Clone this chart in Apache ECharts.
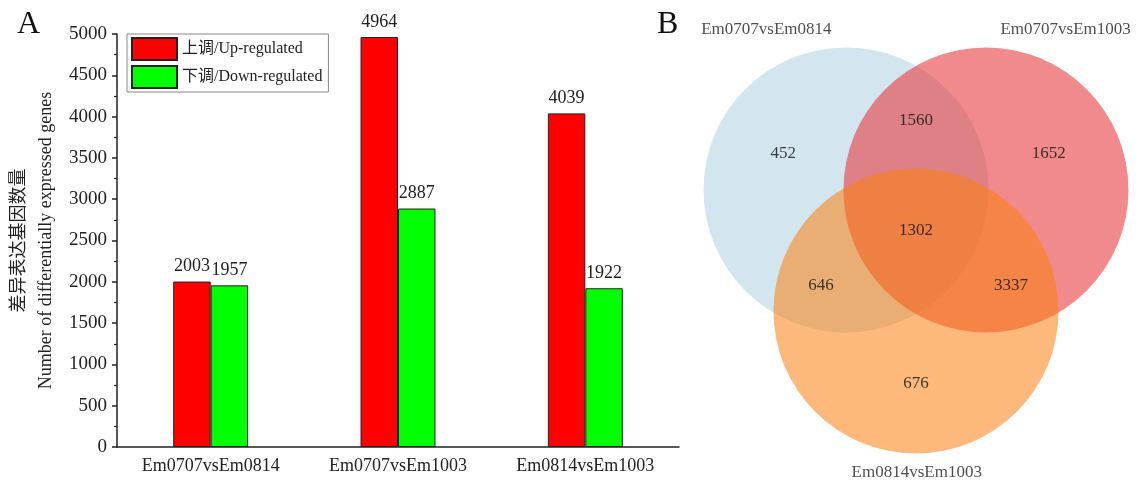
<!DOCTYPE html>
<html>
<head>
<meta charset="utf-8">
<script src="https://cdn.jsdelivr.net/npm/echarts@6/dist/echarts.min.js"></script>
<style>
html,body{margin:0;padding:0;background:#fff;}
#main{width:1140px;height:483px;}
</style>
</head>
<body>
<div id="main"></div>
<script>
// ---- data ----
const categories = ['Em0707vsEm0814', 'Em0707vsEm1003', 'Em0814vsEm1003'];
const upRegulated = [2003, 4964, 4039];
const downRegulated = [1957, 2887, 1922];
const seriesNames = ['上调/Up-regulated', '下调/Down-regulated'];
const yAxisName = ['差异表达基因数量', 'Number of differentially expressed genes'];
const vennSets = ['Em0707vsEm0814', 'Em0707vsEm1003', 'Em0814vsEm1003'];
const vennOnly = [452, 1652, 676];          // only set A, only B, only C
const vennPairs = [1560, 646, 3337];        // A∩B, A∩C, B∩C (not the third)
const vennAll = 1302;                        // A∩B∩C

// ---- layout / style ----
const FONT = '"Liberation Serif", "Times New Roman", "Noto Sans CJK SC", serif';
const R_PX = 142.5, CX_PX = 916, CY_PX = 230.3;
const VL = 640, VT = 0, VW = 500, VH = 483;
const setAngles = [150, 30, 270];
const D = 0.567;
const rad = a => a * Math.PI / 180;
const centers = setAngles.map(a => [D * Math.cos(rad(a)), D * Math.sin(rad(a))]);
const circleFill = ['rgba(211,230,240,1)', 'rgba(230,60,63,0.6)', 'rgba(251,128,15,0.55)'];
const pairOpposite = [270, 30, 150]; // direction of pair region = opposite of excluded set
const labelPts = [];
vennOnly.forEach((v, i) => {
  const a = rad(setAngles[i]);
  labelPts.push([1.075 * Math.cos(a), 1.075 * Math.sin(a), v]);
});
vennPairs.forEach((v, i) => {
  const a = rad(pairOpposite[i] + 180);
  labelPts.push([0.77 * Math.cos(a), 0.77 * Math.sin(a), v]);
});
labelPts.push([0, 0, vennAll]);
const nameAnchors = [[-1.05, 1.41], [1.05, 1.41], [0.005, -1.70]];
const nameData = vennSets.map((n, i) => ({ value: [nameAnchors[i][0], nameAnchors[i][1]], name: n }));

const vx = [(VL - CX_PX) / R_PX, (VL + VW - CX_PX) / R_PX];
const vy = [-(VT + VH - CY_PX) / R_PX, (CY_PX - VT) / R_PX];

const chart = echarts.init(document.getElementById('main'), null, { renderer: 'canvas' });
const axisBlack = { lineStyle: { color: '#222', width: 1.5 } };

chart.setOption({
  animation: false,
  backgroundColor: '#fff',
  textStyle: { fontFamily: FONT },
  title: [
    { text: 'A', left: 12, top: 4, textStyle: { fontFamily: FONT, fontSize: 32, fontWeight: 'normal', color: '#111' } },
    { text: 'B', left: 652, top: 4, textStyle: { fontFamily: FONT, fontSize: 32, fontWeight: 'normal', color: '#111' } }
  ],
  legend: {
    data: seriesNames,
    orient: 'vertical',
    left: 127, top: 34,
    itemWidth: 45, itemHeight: 22, itemGap: 4,
    padding: [3, 6, 3, 4],
    borderColor: '#888', borderWidth: 1,
    icon: 'rect',
    textStyle: { fontFamily: FONT, fontSize: 16, color: '#222' }
  },
  grid: [
    { left: 117, top: 34, width: 562, height: 413 },
    { left: VL, top: VT, width: VW, height: VH }
  ],
  xAxis: [
    {
      type: 'category', data: categories, gridIndex: 0, position: 'bottom', offset: 0,
      axisLine: axisBlack,
      axisTick: { alignWithLabel: true, length: 7, lineStyle: { color: '#222', width: 1.5 } },
      axisLabel: { fontFamily: FONT, fontSize: 18, color: '#222', margin: 10 }
    },
    {
      type: 'category', data: categories, gridIndex: 0, position: 'bottom', offset: 0,
      axisLine: { show: false },
      axisTick: { length: 4, lineStyle: { color: '#222', width: 1.5 } },
      axisLabel: { show: false }
    },
    { type: 'value', gridIndex: 1, min: vx[0], max: vx[1], show: false }
  ],
  yAxis: [
    {
      type: 'value', gridIndex: 0, min: 0, max: 5000, interval: 500,
      axisLine: { show: true, lineStyle: { color: '#222', width: 1.5 } },
      axisTick: { show: true, length: 5, lineStyle: { color: '#222', width: 1.5 } },
      minorTick: { show: true, splitNumber: 2, length: 3, lineStyle: { color: '#222', width: 1.2 } },
      splitLine: { show: false },
      axisLabel: { fontFamily: FONT, fontSize: 19, color: '#222', margin: 10, formatter: v => String(v) },
      name: yAxisName.join('\n'),
      nameLocation: 'middle', nameRotate: 90, nameGap: 57,
      nameTextStyle: { fontFamily: FONT, fontSize: 18, color: '#222', lineHeight: 27 }
    },
    { type: 'value', gridIndex: 1, min: vy[0], max: vy[1], show: false }
  ],
  series: [
    {
      name: seriesNames[0], type: 'bar', xAxisIndex: 0, yAxisIndex: 0,
      data: upRegulated, barGap: '0%', barCategoryGap: '60%',
      itemStyle: { color: '#ff0000', borderColor: '#222', borderWidth: 1 },
      label: { show: true, position: 'top', distance: 6, fontFamily: FONT, fontSize: 18, color: '#222' }
    },
    {
      name: seriesNames[1], type: 'bar', xAxisIndex: 0, yAxisIndex: 0,
      data: downRegulated, barGap: '0%', barCategoryGap: '60%',
      itemStyle: { color: '#00ff00', borderColor: '#222', borderWidth: 1 },
      label: { show: true, position: 'top', distance: 6, fontFamily: FONT, fontSize: 18, color: '#222' }
    },
    {
      type: 'custom', xAxisIndex: 2, yAxisIndex: 1, silent: true,
      data: centers.map((c, i) => [c[0], c[1], i]),
      renderItem: function (params, api) {
        const p = api.coord([api.value(0), api.value(1)]);
        const s = api.size([1, 1], [api.value(0), api.value(1)]);
        return {
          type: 'circle',
          shape: { cx: p[0], cy: p[1], r: s[0] },
          style: { fill: circleFill[api.value(2)], stroke: null }
        };
      },
      z: 1
    },
    {
      type: 'scatter', xAxisIndex: 2, yAxisIndex: 1, symbolSize: 0, silent: true,
      data: labelPts,
      label: { show: true, position: 'inside', formatter: p => p.value[2], fontFamily: FONT, fontSize: 17, color: '#111' },
      z: 5
    },
    {
      type: 'scatter', xAxisIndex: 2, yAxisIndex: 1, symbolSize: 0, silent: true,
      data: nameData,
      label: { show: true, position: 'inside', formatter: p => p.name, fontFamily: FONT, fontSize: 17, color: '#222' },
      z: 5
    }
  ]
});
</script>
</body>
</html>
